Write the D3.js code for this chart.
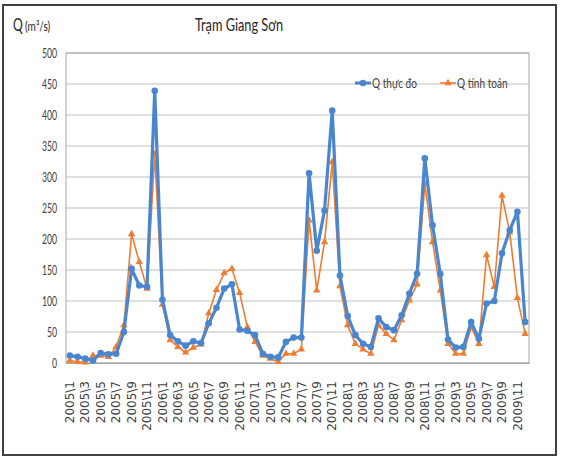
<!DOCTYPE html>
<html>
<head>
<meta charset="utf-8">
<script src="https://cdn.jsdelivr.net/npm/d3@7"></script>
<style>
  body { margin: 0; background: #fff; }
  svg { display: block; }
</style>
</head>
<body>
<svg id="chart"></svg>
<script>
const years = [2005, 2006, 2007, 2008, 2009];
const months = d3.range(1, 13);

const qThucDo = [
  12, 10, 7, 4, 16, 14, 15, 50, 152, 125, 123, 439,
  102, 45, 35, 28, 35, 32, 64, 89, 120, 127, 54, 52,
  45, 15, 10, 9, 34, 41, 41, 306, 181, 246, 407, 141,
  76, 45, 31, 26, 72, 58, 53, 77, 112, 144, 330, 222,
  144, 38, 25, 26, 66, 39, 96, 100, 177, 214, 244, 66
];
const qTinhToan = [
  4, 2, 1, 12, 12, 10, 26, 61, 208, 163, 120, 337,
  94, 37, 26, 17, 25, 30, 80, 118, 145, 152, 113, 58,
  34, 12, 7, 2, 15, 15, 22, 230, 117, 195, 324, 124,
  61, 31, 22, 15, 61, 47, 37, 69, 101, 127, 289, 195,
  117, 31, 15, 15, 58, 31, 174, 123, 270, 211, 105, 47
];
const yTicks = d3.range(0, 501, 50);

const monthLabels = [];
years.forEach(y => months.forEach(m => monthLabels.push(y + "\\" + m)));

const width = 561;
const height = 465;
const margin = { top: 53, right: 32, bottom: 102, left: 66 };
const font = 'Lato, "Open Sans", sans-serif';

// the reference text is set in a narrow face, so squeeze the glyphs
function squeeze(sel, factor) {
  sel.each(function() {
    const w = this.getComputedTextLength();
    d3.select(this)
      .attr('textLength', w * factor)
      .attr('lengthAdjust', 'spacingAndGlyphs');
  });
}

const svg = d3.select('#chart')
  .attr('width', width)
  .attr('height', height);

// outer frame
svg.append('rect')
  .attr('x', 3).attr('y', 5)
  .attr('width', 553).attr('height', 450)
  .attr('fill', 'none')
  .attr('stroke', '#404040')
  .attr('stroke-width', 2);

const x = d3.scaleBand()
  .domain(monthLabels)
  .range([margin.left, width - margin.right]);

const y = d3.scaleLinear()
  .domain([0, 500])
  .range([height - margin.bottom, margin.top]);

const cx = d => x(d) + x.bandwidth() / 2;

// gridlines
svg.append('g')
  .selectAll('line')
  .data(yTicks)
  .enter().append('line')
    .attr('x1', margin.left)
    .attr('x2', width - margin.right)
    .attr('y1', d => y(d))
    .attr('y2', d => y(d))
    .attr('stroke', '#d4d4d4')
    .attr('stroke-width', 1.5);

// plot border
svg.append('rect')
  .attr('x', margin.left).attr('y', margin.top)
  .attr('width', width - margin.right - margin.left)
  .attr('height', height - margin.bottom - margin.top)
  .attr('fill', 'none')
  .attr('stroke', '#a6a6a6')
  .attr('stroke-width', 1);

// y axis
const yAxis = svg.append('g')
  .attr('transform', `translate(${margin.left},0)`)
  .call(d3.axisLeft(y).tickValues(yTicks).tickSize(0).tickPadding(9));
yAxis.select('.domain').remove();
yAxis.selectAll('text')
  .attr('font-family', font)
  .attr('font-size', 14)
  .attr('fill', '#404040')
  .call(squeeze, 0.62);

// x axis
const xAxis = svg.append('g')
  .attr('transform', `translate(0,${height - margin.bottom})`)
  .call(d3.axisBottom(x)
    .tickValues(monthLabels.filter((d, i) => i % 2 === 0))
    .tickSize(0));
xAxis.select('.domain').attr('stroke', '#a6a6a6');
xAxis.selectAll('text')
  .attr('font-family', '"DejaVu Sans", sans-serif')
  .attr('font-size', 12)
  .attr('fill', '#404040')
  .attr('text-anchor', 'end')
  .attr('dy', '0.35em')
  .attr('transform', 'translate(0,18) rotate(-90)')
  .attr('x', 0)
  .attr('y', 0);

const line = d3.line()
  .x((d, i) => cx(monthLabels[i]))
  .y(d => y(d));

const orange = '#ed7d31';
const blue = '#4a86cf';

// Q tinh toan
svg.append('path')
  .datum(qTinhToan)
  .attr('d', line)
  .attr('fill', 'none')
  .attr('stroke', orange)
  .attr('stroke-width', 1.6);

const tri = d3.symbol().type(d3.symbolTriangle).size(24);
svg.append('g')
  .selectAll('path')
  .data(qTinhToan)
  .enter().append('path')
    .attr('d', tri)
    .attr('transform', (d, i) => `translate(${cx(monthLabels[i])},${y(d)})`)
    .attr('fill', orange);

// Q thuc do
svg.append('path')
  .datum(qThucDo)
  .attr('d', line)
  .attr('fill', 'none')
  .attr('stroke', blue)
  .attr('stroke-width', 3.2);

svg.append('g')
  .selectAll('circle')
  .data(qThucDo)
  .enter().append('circle')
    .attr('cx', (d, i) => cx(monthLabels[i]))
    .attr('cy', d => y(d))
    .attr('r', 3.3)
    .attr('fill', blue);

// titles
svg.append('text')
  .attr('x', 239).attr('y', 31)
  .attr('text-anchor', 'middle')
  .attr('font-family', font)
  .attr('font-size', 17)
  .attr('fill', '#262626')
  .text('Trạm Giang Sơn')
  .call(squeeze, 0.75);

svg.append('text')
  .attr('x', 13).attr('y', 31)
  .attr('font-family', font)
  .attr('font-size', 17)
  .attr('fill', '#262626')
  .text('Q')
  .call(squeeze, 0.72);
svg.append('text')
  .attr('x', 25).attr('y', 31)
  .attr('font-family', font)
  .attr('font-size', 14)
  .attr('fill', '#262626')
  .text('(m³/s)')
  .call(squeeze, 0.72);

// legend
const legend = [
  { name: 'Q thực đo', color: blue, x: 355 },
  { name: 'Q tính toán', color: orange, x: 440 }
];
const lg = svg.append('g')
  .selectAll('g')
  .data(legend)
  .enter().append('g')
    .attr('transform', d => `translate(${d.x},83)`);
lg.append('line')
  .attr('x1', 0).attr('x2', 16)
  .attr('stroke', d => d.color)
  .attr('stroke-width', (d, i) => i === 0 ? 3 : 1.6);
lg.filter((d, i) => i === 0).append('circle')
  .attr('cx', 8).attr('r', 3.2).attr('fill', blue);
lg.filter((d, i) => i === 1).append('path')
  .attr('d', tri).attr('transform', 'translate(8,0)').attr('fill', orange);
lg.append('text')
  .attr('x', 17).attr('y', 5)
  .attr('font-family', font)
  .attr('font-size', 14)
  .attr('fill', '#404040')
  .text(d => d.name)
  .call(squeeze, 0.72);
</script>
</body>
</html>
